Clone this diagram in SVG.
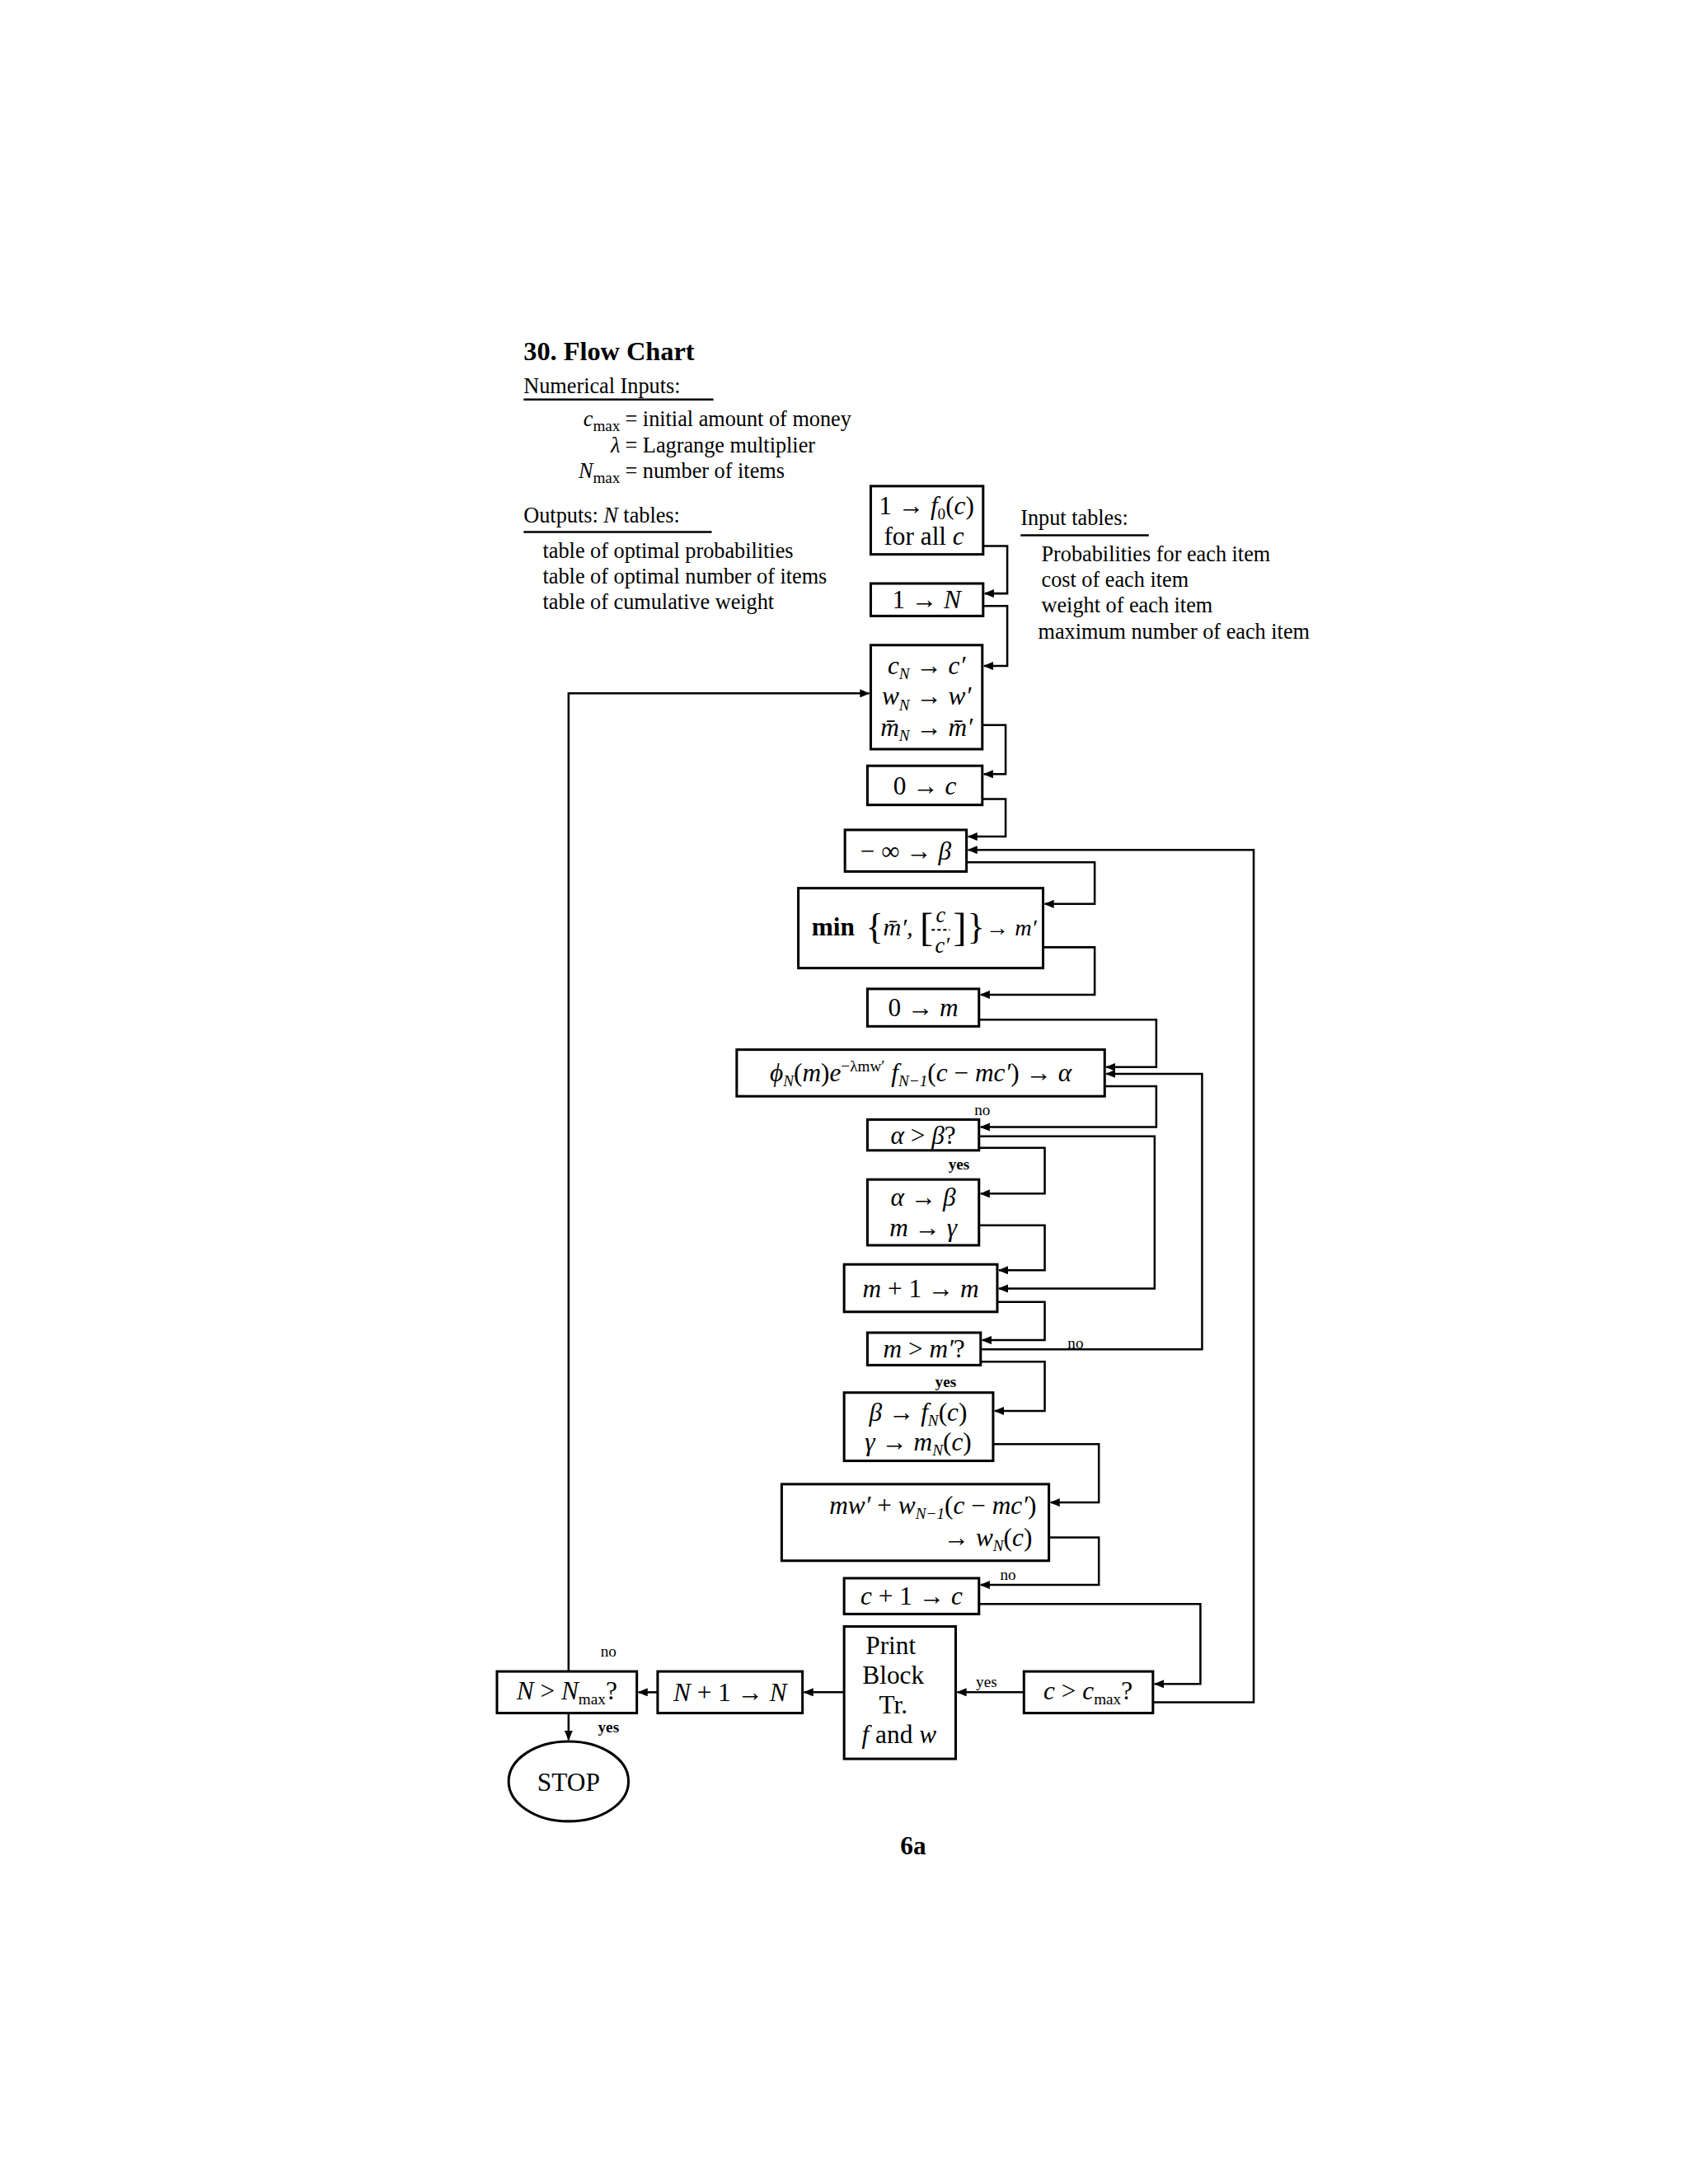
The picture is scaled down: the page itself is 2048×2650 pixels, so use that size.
<svg xmlns="http://www.w3.org/2000/svg" width="2048" height="2650" viewBox="0 0 2048 2650">
<defs>
<style>
text{font-family:"Liberation Serif","DejaVu Serif",serif;fill:#000}
.t{font-size:26px}
.b{font-size:31px;text-anchor:middle}
.i{font-style:italic}
.s{font-size:19px}
.lbl{font-size:19px;text-anchor:middle}
rect,ellipse{fill:#fff;stroke:#000;stroke-width:3}
.c path{fill:none;stroke:#000;stroke-width:2.5}
.u{stroke:#000;stroke-width:2.5}
</style>
<marker id="a" markerWidth="12" markerHeight="10" refX="11" refY="5" orient="auto" markerUnits="userSpaceOnUse"><path d="M0,0 L12,5 L0,10 Z" fill="#000"/></marker>
</defs>
<rect width="2048" height="2650" style="fill:#fff;stroke:none"/>
<g transform="scale(1.01)">
<text x="629" y="433" style="font-size:32px;font-weight:bold">30. Flow Chart</text>
<text x="629" y="472" class="t">Numerical Inputs:</text>
<line x1="629" y1="480" x2="857" y2="480" class="u"/>
<text x="745" y="512" class="t" text-anchor="end"><tspan class="i">c</tspan><tspan class="s" dy="6">max</tspan></text>
<text x="751" y="512" class="t">= initial amount of money</text>
<text x="745" y="544" class="t i" text-anchor="end">λ</text>
<text x="751" y="544" class="t">= Lagrange multiplier</text>
<text x="745" y="574" class="t" text-anchor="end"><tspan class="i">N</tspan><tspan class="s" dy="6">max</tspan></text>
<text x="751" y="574" class="t">= number of items</text>
<text x="629" y="628" class="t">Outputs: <tspan class="i">N</tspan> tables:</text>
<line x1="629" y1="639" x2="855" y2="639" class="u"/>
<text x="652" y="670" class="t">table of optimal probabilities</text>
<text x="652" y="701" class="t">table of optimal number of items</text>
<text x="652" y="732" class="t">table of cumulative weight</text>
<text x="1226" y="631" class="t">Input tables:</text>
<line x1="1226" y1="643" x2="1380" y2="643" class="u"/>
<text x="1251" y="674" class="t">Probabilities for each item</text>
<text x="1251" y="705" class="t">cost of each item</text>
<text x="1251" y="736" class="t">weight of each item</text>
<text x="1247" y="767" class="t">maximum number of each item</text>

<g id="connectors" class="c">
<path d="M1181,656 H1210 V713 H1183" marker-end="url(#a)"/>
<path d="M1181,728 H1210 V800 H1182" marker-end="url(#a)"/>
<path d="M1180,871 H1208 V930 H1182" marker-end="url(#a)"/>
<path d="M1180,960 H1208 V1005 H1163" marker-end="url(#a)"/>
<path d="M1161,1036 H1315 V1086 H1255" marker-end="url(#a)"/>
<path d="M1253,1138 H1315 V1195 H1178" marker-end="url(#a)"/>
<path d="M1176,1225 H1389 V1282 H1329" marker-end="url(#a)"/>
<path d="M1327,1305 H1389 V1354 H1178" marker-end="url(#a)"/>
<path d="M1176,1365 H1387 V1548 H1200" marker-end="url(#a)"/>
<path d="M1176,1379 H1255 V1434 H1178" marker-end="url(#a)"/>
<path d="M1176,1472 H1255 V1526 H1200" marker-end="url(#a)"/>
<path d="M1198,1564 H1255 V1610 H1180" marker-end="url(#a)"/>
<path d="M1178,1621 H1444 V1290 H1329" marker-end="url(#a)"/>
<path d="M1178,1636 H1255 V1695 H1195" marker-end="url(#a)"/>
<path d="M1193,1735 H1320 V1805 H1262" marker-end="url(#a)"/>
<path d="M1260,1847 H1320 V1904 H1178" marker-end="url(#a)"/>
<path d="M1176,1927 H1442 V2023 H1387" marker-end="url(#a)"/>
<path d="M1385,2045 H1506 V1021 H1163" marker-end="url(#a)"/>
<path d="M1230,2033 H1150" marker-end="url(#a)"/>
<path d="M1014,2033 H966" marker-end="url(#a)"/>
<path d="M790,2033 H767" marker-end="url(#a)"/>
<path d="M683,2008 V833 H1044" marker-end="url(#a)"/>
<path d="M683,2058 V2090" marker-end="url(#a)"/>
</g>
<g id="labels">
<text x="1180" y="1340" class="lbl">no</text>
<text x="1152" y="1405" class="lbl" style="font-weight:bold">yes</text>
<text x="1292" y="1620" class="lbl">no</text>
<text x="1136" y="1666" class="lbl" style="font-weight:bold">yes</text>
<text x="1211" y="1898" class="lbl">no</text>
<text x="1185" y="2027" class="lbl">yes</text>
<text x="731" y="1990" class="lbl">no</text>
<text x="731" y="2081" class="lbl" style="font-weight:bold">yes</text>
</g>

<g id="n1"><rect x="1046" y="584" width="135" height="82"/>
<text x="1113" y="618" class="b">1 → <tspan class="i">f</tspan><tspan class="s" dy="6">0</tspan><tspan dy="-6">(</tspan><tspan class="i">c</tspan>)</text>
<text x="1110" y="654" class="b">for all <tspan class="i">c</tspan></text></g>
<g id="n2"><rect x="1046" y="701" width="135" height="39"/>
<text x="1113" y="731" class="b">1 → <tspan class="i">N</tspan></text></g>
<g id="n3"><rect x="1046" y="775" width="134" height="125"/>
<text x="1113" y="810" class="b"><tspan class="i">c</tspan><tspan class="s i" dy="6">N</tspan><tspan dy="-6"> → </tspan><tspan class="i">c′</tspan></text>
<text x="1113" y="847" class="b"><tspan class="i">w</tspan><tspan class="s i" dy="6">N</tspan><tspan dy="-6"> → </tspan><tspan class="i">w′</tspan></text>
<text x="1113" y="884" class="b"><tspan class="i">m̄</tspan><tspan class="s i" dy="6">N</tspan><tspan dy="-6"> → </tspan><tspan class="i">m̄′</tspan></text></g>
<g id="n4"><rect x="1042" y="920" width="138" height="47"/>
<text x="1111" y="954" class="b">0 → <tspan class="i">c</tspan></text></g>
<g id="n5"><rect x="1015" y="997" width="146" height="50"/>
<text x="1088" y="1033" class="b">− ∞ → <tspan class="i">β</tspan></text></g>
<g id="n6"><rect x="959" y="1067" width="294" height="96"/>
<text x="975" y="1124" style="font-size:31px;font-weight:bold">min</text>
<text x="1040" y="1128" style="font-size:44px">{</text>
<text x="1061" y="1124" style="font-size:30px" class="i">m̄′,</text>
<text x="1105" y="1130" style="font-size:48px">[</text>
<text x="1130" y="1108" style="font-size:26px;text-anchor:middle" class="i">c</text>
<line x1="1119" y1="1117" x2="1141" y2="1117" stroke="#000" stroke-width="2" stroke-dasharray="4,3"/>
<text x="1132" y="1145" style="font-size:26px;text-anchor:middle" class="i">c′</text>
<text x="1145" y="1130" style="font-size:48px">]</text>
<text x="1162" y="1128" style="font-size:44px">}</text>
<text x="1184" y="1124" style="font-size:28px">→ <tspan class="i">m′</tspan></text></g>
<g id="n7"><rect x="1042" y="1188" width="134" height="45"/>
<text x="1109" y="1221" class="b">0 → <tspan class="i">m</tspan></text></g>
<g id="n8"><rect x="885" y="1261" width="442" height="56"/>
<text x="1106" y="1299" class="b"><tspan class="i">ϕ</tspan><tspan class="s i" dy="6">N</tspan><tspan dy="-6">(</tspan><tspan class="i">m</tspan>)<tspan class="i">e</tspan><tspan class="s" dy="-12">−λmw′</tspan><tspan dy="12"> </tspan><tspan class="i">f</tspan><tspan class="s i" dy="6">N−1</tspan><tspan dy="-6">(</tspan><tspan class="i">c</tspan> − <tspan class="i">mc′</tspan>) → <tspan class="i">α</tspan></text></g>
<g id="n9"><rect x="1042" y="1345" width="134" height="37"/>
<text x="1109" y="1374" class="b"><tspan class="i">α</tspan> &gt; <tspan class="i">β</tspan>?</text></g>
<g id="n10"><rect x="1042" y="1417" width="134" height="79"/>
<text x="1109" y="1449" class="b"><tspan class="i">α</tspan> → <tspan class="i">β</tspan></text>
<text x="1109" y="1485" class="b"><tspan class="i">m</tspan> → <tspan class="i">γ</tspan></text></g>
<g id="n11"><rect x="1014" y="1519" width="184" height="57"/>
<text x="1106" y="1558" class="b"><tspan class="i">m</tspan> + 1 → <tspan class="i">m</tspan></text></g>
<g id="n12"><rect x="1042" y="1601" width="136" height="39"/>
<text x="1110" y="1631" class="b"><tspan class="i">m</tspan> &gt; <tspan class="i">m′</tspan>?</text></g>
<g id="n13"><rect x="1014" y="1673" width="179" height="82"/>
<text x="1103" y="1707" class="b"><tspan class="i">β</tspan> → <tspan class="i">f</tspan><tspan class="s i" dy="6">N</tspan><tspan dy="-6">(</tspan><tspan class="i">c</tspan>)</text>
<text x="1103" y="1743" class="b"><tspan class="i">γ</tspan> → <tspan class="i">m</tspan><tspan class="s i" dy="6">N</tspan><tspan dy="-6">(</tspan><tspan class="i">c</tspan>)</text></g>
<g id="n14"><rect x="939" y="1783" width="321" height="92"/>
<text x="1245" y="1819" style="font-size:31px;text-anchor:end"><tspan class="i">mw′</tspan> + <tspan class="i">w</tspan><tspan class="s i" dy="6">N−1</tspan><tspan dy="-6">(</tspan><tspan class="i">c</tspan> − <tspan class="i">mc′</tspan>)</text>
<text x="1240" y="1857" style="font-size:31px;text-anchor:end">→ <tspan class="i">w</tspan><tspan class="s i" dy="6">N</tspan><tspan dy="-6">(</tspan><tspan class="i">c</tspan>)</text></g>
<g id="n15"><rect x="1014" y="1896" width="162" height="43"/>
<text x="1095" y="1928" class="b"><tspan class="i">c</tspan> + 1 → <tspan class="i">c</tspan></text></g>
<g id="n16"><rect x="1014" y="1954" width="134" height="159"/>
<text x="1070" y="1987" class="b">Print</text>
<text x="1073" y="2023" class="b">Block</text>
<text x="1073" y="2058" class="b">Tr.</text>
<text x="1080" y="2094" class="b"><tspan class="i">f</tspan> and <tspan class="i">w</tspan></text></g>
<g id="n17"><rect x="1230" y="2008" width="155" height="50"/>
<text x="1307" y="2042" class="b"><tspan class="i">c</tspan> &gt; <tspan class="i">c</tspan><tspan class="s" dy="6">max</tspan><tspan dy="-6">?</tspan></text></g>
<g id="n18"><rect x="790" y="2008" width="174" height="50"/>
<text x="877" y="2044" class="b"><tspan class="i">N</tspan> + 1 → <tspan class="i">N</tspan></text></g>
<g id="n19"><rect x="597" y="2008" width="168" height="50"/>
<text x="681" y="2042" class="b"><tspan class="i">N</tspan> &gt; <tspan class="i">N</tspan><tspan class="s" dy="6">max</tspan><tspan dy="-6">?</tspan></text></g>
<g id="n20"><ellipse cx="683" cy="2140" rx="72" ry="48"/>
<text x="683" y="2151" class="b">STOP</text></g>
<text x="1097" y="2228" style="font-size:31px;font-weight:bold;text-anchor:middle">6a</text>
</g>
</svg>
